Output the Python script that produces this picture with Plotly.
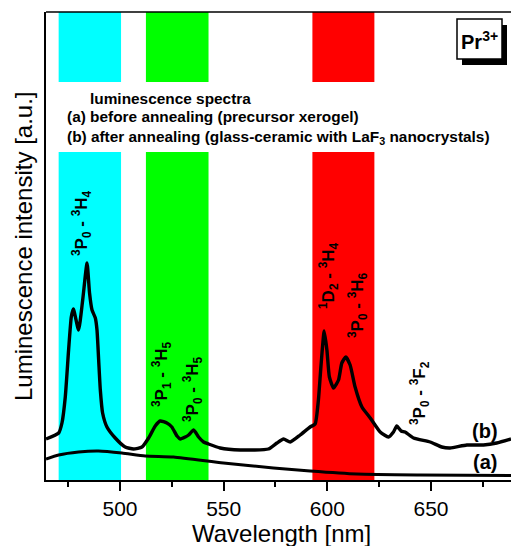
import plotly.graph_objects as go

# ---------------- data ----------------
wl_b = [464.3, 470.4, 472.0, 473.6, 475.2, 476.5, 477.5, 480.0, 482.0, 484.1, 485.3, 486.5,
        488.1, 488.9, 489.7, 490.5, 491.6, 493.7, 497.7, 502.5, 506.5, 510.6, 513.8, 517.0,
        519.4, 522.6, 525.0, 527.5, 529.1, 531.5, 533.1, 535.5, 537.9, 540.3, 542.7, 548.3,
        558.0, 571.6, 575.7, 578.9, 582.1, 586.9, 591.7, 594.1, 595.7, 596.9, 598.5, 599.8,
        601.0, 603.0, 605.4, 607.0, 608.9, 611.0, 613.4, 616.7, 620.7, 625.5, 629.5, 631.9,
        633.5, 635.6, 637.5, 641.6, 649.6, 655.2, 659.2, 667.3, 675.3, 681.7, 688.6]
int_b = [41, 47, 57, 83, 130, 163, 171, 150, 180, 217, 187, 170,
         162, 150, 120, 90, 67, 53, 42, 33, 31, 33, 42, 54,
         59, 57, 53, 44, 41, 43, 45, 50, 43, 38, 36, 32,
         30, 31, 37, 41, 38, 45, 53, 56, 80, 113, 149, 130,
         103, 92, 100, 117, 123, 115, 93, 73, 62, 48, 43, 48,
         54, 49, 48, 42, 38, 33, 32, 35, 35, 37, 41]

wl_a = [464.3, 470.4, 480.0, 489.6, 500.9, 512.2, 525.8, 549.9, 574.0, 591.7, 614.3, 644.8, 688.6]
int_a = [21, 25, 28, 29, 27, 24, 23, 17, 12, 9, 6, 5, 4.5]

band_ranges = [(470.4, 500.5), (512.5, 542.7), (592.8, 622.7)]
band_colors = ["#00FFFF", "#00FF00", "#FF0000"]

tick_vals = [500, 550, 600, 650]
tick_text = ["500", "550", "600", "650"]

transitions = ["<sup>3</sup>P<sub>0</sub> - <sup>3</sup>H<sub>4</sub>",
               "<sup>3</sup>P<sub>1</sub> - <sup>3</sup>H<sub>5</sub>",
               "<sup>3</sup>P<sub>0</sub> - <sup>3</sup>H<sub>5</sub>",
               "<sup>1</sup>D<sub>2</sub> - <sup>3</sup>H<sub>4</sub>",
               "<sup>3</sup>P<sub>0</sub> - <sup>3</sup>H<sub>6</sub>",
               "<sup>3</sup>P<sub>0</sub> - <sup>3</sup>F<sub>2</sub>"]

legend_lines = ["luminescence spectra",
                "(a) before annealing (precursor xerogel)",
                "(b) after annealing (glass-ceramic with LaF<sub>3</sub> nanocrystals)"]

# ---------------- layout helpers ----------------
W, H = 511, 546
L, R, T, B = 46, 511, 12, 480
def px_x(p): return (p - L) / (R - L)
def px_y(p): return (B - p) / (B - T)

FONT = "Liberation Sans, Arial, sans-serif"

fig = go.Figure()
fig.add_trace(go.Scatter(x=wl_b, y=int_b, mode="lines",
                         line=dict(color="black", width=3.4, shape="spline", smoothing=0.5),
                         showlegend=False, hoverinfo="skip"))
fig.add_trace(go.Scatter(x=wl_a, y=int_a, mode="lines",
                         line=dict(color="black", width=3, shape="spline", smoothing=0.6),
                         showlegend=False, hoverinfo="skip"))

shapes = []
for (x0, x1), c in zip(band_ranges, band_colors):
    shapes.append(dict(type="rect", xref="x", yref="paper", x0=x0, x1=x1,
                       y0=px_y(82), y1=1, fillcolor=c, line=dict(width=0), layer="below"))
    shapes.append(dict(type="rect", xref="x", yref="paper", x0=x0, x1=x1,
                       y0=0, y1=px_y(152), fillcolor=c, line=dict(width=0), layer="below"))
# top frame line
shapes.append(dict(type="line", xref="paper", yref="paper", x0=0, x1=1, y0=1, y1=1,
                   line=dict(color="black", width=1.5)))
# Pr3+ box with shadow
shapes.append(dict(type="rect", xref="paper", yref="paper",
                   x0=px_x(462), x1=px_x(507), y0=px_y(65), y1=px_y(25),
                   fillcolor="black", line=dict(width=0)))
shapes.append(dict(type="rect", xref="paper", yref="paper",
                   x0=px_x(457), x1=px_x(502), y0=px_y(59), y1=px_y(19),
                   fillcolor="white", line=dict(color="black", width=1.5)))

annotations = []
# transition labels (centre positions in pixels)
label_pos = [(82, 223), (161, 374), (192, 389), (328, 276), (357, 305), (419, 393)]
for txt, (px, py) in zip(transitions, label_pos):
    annotations.append(dict(text="<b>" + txt + "</b>", xref="paper", yref="paper",
                            x=px_x(px), y=px_y(py), textangle=-90, showarrow=False,
                            xanchor="center", yanchor="middle",
                            font=dict(family=FONT, size=17, color="black")))
# legend text
annotations.append(dict(text="<b>" + legend_lines[0] + "</b>", xref="paper", yref="paper",
                        x=px_x(170), y=px_y(98), showarrow=False, xanchor="center", yanchor="middle",
                        font=dict(family=FONT, size=15.4, color="black")))
for txt, py in zip(legend_lines[1:], [117, 137]):
    annotations.append(dict(text="<b>" + txt + "</b>", xref="paper", yref="paper",
                            x=px_x(65), y=px_y(py), showarrow=False, xanchor="left", yanchor="middle",
                            font=dict(family=FONT, size=15.4, color="black")))
# curve labels
annotations.append(dict(text="<b>(b)</b>", xref="paper", yref="paper", x=px_x(485), y=px_y(431),
                        showarrow=False, xanchor="center", yanchor="middle",
                        font=dict(family=FONT, size=20, color="black")))
annotations.append(dict(text="<b>(a)</b>", xref="paper", yref="paper", x=px_x(485), y=px_y(462),
                        showarrow=False, xanchor="center", yanchor="middle",
                        font=dict(family=FONT, size=20, color="black")))
# Pr3+
annotations.append(dict(text="<b>Pr<sup>3+</sup></b>", xref="paper", yref="paper",
                        x=px_x(479.5), y=px_y(40), showarrow=False, xanchor="center", yanchor="middle",
                        font=dict(family=FONT, size=20, color="black")))
# axis titles
annotations.append(dict(text="Wavelength [nm]", xref="paper", yref="paper",
                        x=px_x(281), y=px_y(533), showarrow=False, xanchor="center", yanchor="middle",
                        font=dict(family=FONT, size=24, color="black")))
annotations.append(dict(text="Luminescence intensity [a.u.]", xref="paper", yref="paper",
                        x=px_x(23), y=px_y(246), showarrow=False, textangle=-90,
                        xanchor="center", yanchor="middle",
                        font=dict(family=FONT, size=24, color="black")))

fig.update_layout(
    width=W, height=H,
    margin=dict(l=L, r=W - R, t=T, b=H - B, autoexpand=False),
    plot_bgcolor="white", paper_bgcolor="white",
    shapes=shapes, annotations=annotations, showlegend=False,
    xaxis=dict(range=[464.3, 688.6], showgrid=False, zeroline=False,
               showline=True, linecolor="black", linewidth=2,
               ticks="outside", ticklen=9, tickwidth=2, tickcolor="black",
               tickvals=tick_vals, ticktext=tick_text,
               tickfont=dict(family=FONT, size=21, color="black"),
               minor=dict(tickvals=[475, 525, 575, 625, 675], ticks="outside", ticklen=5,
                          tickwidth=2, tickcolor="black", showgrid=False)),
    yaxis=dict(range=[0, 468], showgrid=False, zeroline=False, showticklabels=False,
               showline=True, linecolor="black", linewidth=2, ticks=""),
)

fig.write_html("out.html")
